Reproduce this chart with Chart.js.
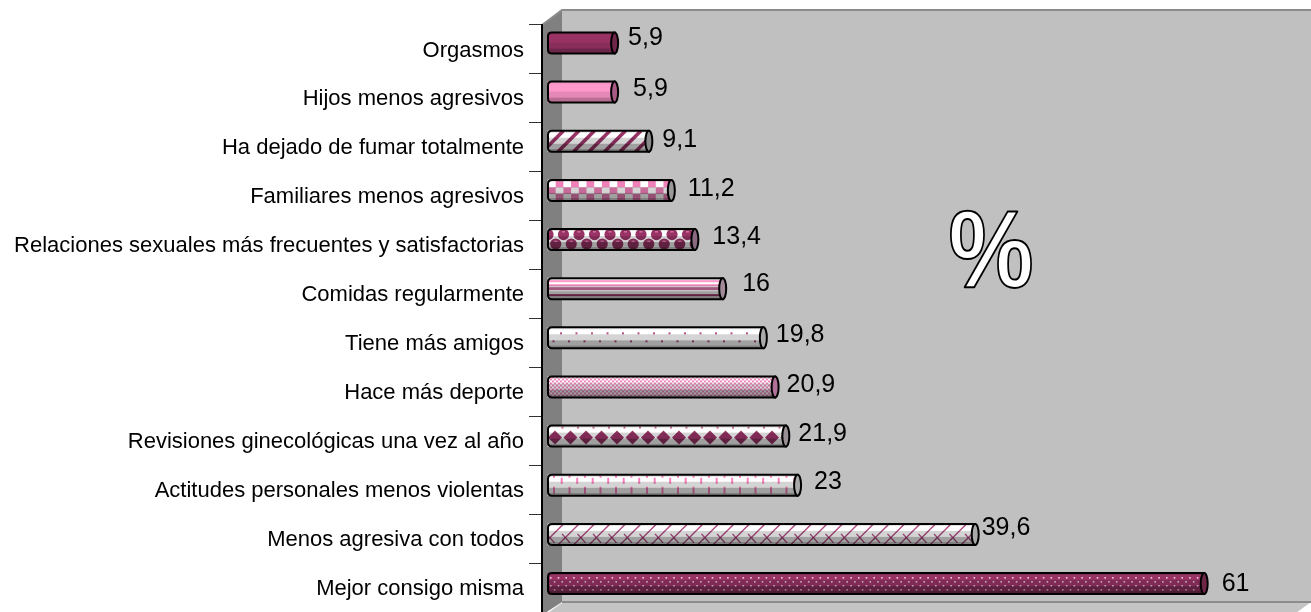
<!DOCTYPE html>
<html lang="es"><head><meta charset="utf-8"><title>Chart</title>
<style>html,body{margin:0;padding:0;background:#fff;overflow:hidden}canvas{display:block}</style>
<script src="https://cdn.jsdelivr.net/npm/chart.js@4"></script></head>
<body><canvas id="c" width="1311" height="612"></canvas>
<script>
const categories = ["Orgasmos","Hijos menos agresivos","Ha dejado de fumar totalmente","Familiares menos agresivos","Relaciones sexuales más frecuentes y satisfactorias","Comidas regularmente","Tiene más amigos","Hace más deporte","Revisiones ginecológicas una vez al año","Actitudes personales menos violentas","Menos agresiva con todos","Mejor consigo misma"];
const values = [5.9,5.9,9.1,11.2,13.4,16,19.8,20.9,21.9,23,39.6,61];
const barPatterns = ["solidPlum","solidPink","diagonal","checker","spheres","stripes","dots","fine","diamonds","dashes","trellis","plumDots"];
const labelNudgeX = [17,22,17,20,21,23,16,15,16,20,10,21];
const labelNudgeY = [-6,-4,-2,-2,-3,-6,-4,-3,-3,-4,-7,0];

const PLUM="#993366", PINK="#ff99cc", STEP=15.5, DEPTH_X=20, DEPTH_Y=15;
const baseColors={solidPlum:PLUM,solidPink:PINK,plumDots:PLUM};
const capColors={solidPlum:"#6e2649",solidPink:"#a85a85",diagonal:"#8a8a8a",checker:"#999",spheres:"#8a6a80",stripes:"#a08a98",dots:"#aaa",fine:"#b07098",diamonds:"#998f95",dashes:"#aaa",trellis:"#aaa",plumDots:"#6e2649"};
const bands=[[0,2,"#e0e0e0"],[2,7,"#ffffff"],[7,13,"#d4d4d4"],[13,18,"#a0a0a0"],[18,23,"#808080"]];
const softBands=[[0,2,"#f0f0f0"],[2,10,"#ffffff"],[10,16,"#e4e4e4"],[16,23,"#b8b8b8"]];

const painters={
 solidPlum(){},solidPink(){},
 diagonal(c,L,T,W,H){c.strokeStyle=PLUM;c.lineWidth=3.6;for(let x=L-H;x<L+W+H;x+=STEP){c.beginPath();c.moveTo(x,T+H);c.lineTo(x+H,T);c.stroke();}},
 checker(c,L,T,W,H){c.fillStyle="#f080b8";let j=0;for(let y=T+1;y<T+H;y+=6.5,j++){let i=0;for(let x=L;x<L+W;x+=7.7,i++){if((i+j)%2)c.fillRect(x,y,7.7,6.5);}}},
 spheres(c,L,T,W,H){[[15,STEP/2],[5.5,0]].forEach(r=>{for(let x=L+r[1];x<L+W+8;x+=STEP){c.fillStyle=PLUM;c.beginPath();c.arc(x,T+r[0],5.6,0,7);c.fill();c.fillStyle="#d070a0";c.fillRect(x-1.5,T+r[0]-3.5,3,1.5);}});},
 stripes(c,L,T,W,H){[[2,2,PINK],[6,2,PINK],[9,3,"#c06a98"],[13,1,"#fff"],[16,2,PLUM]].forEach(s=>{c.fillStyle=s[2];c.fillRect(L,T+s[0],W,s[1]);});},
 dots(c,L,T,W,H){c.fillStyle="#b8508a";[[5,12],[13,4.5]].forEach(r=>{for(let x=L+r[1];x<L+W;x+=STEP)c.fillRect(x,T+r[0],2,2);});},
 fine(c,L,T,W,H){c.fillStyle="#f088bc";for(let y=0;y<H;y+=2)for(let x=0;x<W;x+=2){if(((x+y)/2)%2===0)c.fillRect(L+x,T+y,2,2);}},
 diamonds(c,L,T,W,H){for(let x=L+7;x<L+W+8;x+=STEP){c.fillStyle=PLUM;c.beginPath();c.moveTo(x-7,T+12);c.lineTo(x,T+5);c.lineTo(x+7,T+12);c.lineTo(x,T+19);c.closePath();c.fill();c.fillStyle="#d070a0";c.fillRect(x+6.5,T+1,2,2);}},
 dashes(c,L,T,W,H){for(let x=L+5;x<L+W;x+=STEP){c.fillStyle="#ff80c0";c.fillRect(x+7.7,T+3,2,6);c.fillRect(x,T+1,2,2);c.fillRect(x,T+12,2,7);}},
 trellis(c,L,T,W,H){c.strokeStyle="#b04c82";c.lineWidth=1.4;for(let x=L-H;x<L+W+H;x+=STEP){c.beginPath();c.moveTo(x,T+H);c.lineTo(x+H,T);c.stroke();c.beginPath();c.moveTo(x+4,T+10);c.lineTo(x+12,T+H-2);c.stroke();}},
 plumDots(c,L,T,W,H){c.fillStyle="#f0d0e0";[[4,2],[8,5.8],[12,2],[16,5.8]].forEach(r=>{for(let x=L+r[1];x<L+W;x+=7.7)c.fillRect(x,T+r[0],1.6,1.6);});}
};

function outlinePath(c,L,T,R,B){const r=4;c.beginPath();c.moveTo(L+r,T);c.lineTo(R,T);c.lineTo(R,B);c.lineTo(L+r,B);c.quadraticCurveTo(L,B,L,B-r);c.lineTo(L,T+r);c.quadraticCurveTo(L,T,L+r,T);c.closePath();}

const scene={id:"scene",
 beforeDraw(chart){const c=chart.ctx,a=chart.chartArea,W=chart.width,backL=a.left+DEPTH_X,backT=a.top-DEPTH_Y,floorY=a.bottom-10;
  c.save();
  c.fillStyle="#c0c0c0";c.fillRect(backL,backT,W-backL,floorY-backT);
  c.fillStyle="#808080";c.beginPath();c.moveTo(a.left,a.top);c.lineTo(backL,backT);c.lineTo(backL,floorY);c.lineTo(a.left,a.bottom+3);c.closePath();c.fill();
  c.fillStyle="#c4c4c4";c.beginPath();c.moveTo(backL,floorY);c.lineTo(W,floorY);c.lineTo(W-15,a.bottom+1);c.lineTo(a.left+6,a.bottom+1);c.closePath();c.fill();
  c.strokeStyle="#8c8c8c";c.lineWidth=2;c.beginPath();c.moveTo(a.left,a.top);c.lineTo(backL,backT);c.lineTo(W,backT);c.stroke();
  c.beginPath();c.moveTo(backL,floorY);c.lineTo(W,floorY);c.stroke();
  c.strokeStyle="#e4e4e4";c.lineWidth=1;c.beginPath();c.moveTo(backL,floorY+1);c.lineTo(a.left+7,a.bottom);c.stroke();
  c.restore();},
 afterDatasetsUpdate(chart){const els=chart.getDatasetMeta(0).data,n=els.length-1;els.forEach((e,i)=>{e.y-=6.5-2.5*i/n;});},
 afterDatasetsDraw(chart){const c=chart.ctx;
  chart.getDatasetMeta(0).data.forEach((e,i)=>{
   const name=barPatterns[i],H=e.height,T=e.y-H/2,B=T+H,L=e.base,R=e.x,capR=3.5;
   c.save();outlinePath(c,L,T,R+capR,B);c.clip();
   c.fillStyle=baseColors[name]||"#ffffff";c.fillRect(L,T,R-L+capR,H);
   painters[name](c,L,T,R-L+capR,H);
   c.globalCompositeOperation="multiply";
   (name.startsWith("solid")?softBands:bands).forEach(b=>{c.fillStyle=b[2];c.fillRect(L,T+b[0],R-L+capR,Math.min(b[1],H)-b[0]);});
   c.restore();
   c.save();c.strokeStyle="#000";c.lineWidth=2;
   outlinePath(c,L,T,R+capR,B);c.stroke();
   c.beginPath();c.ellipse(R+capR,e.y,capR,H/2,0,0,Math.PI*2);c.fillStyle=capColors[name];c.fill();c.stroke();
   c.fillStyle="#000";c.font='25px "Liberation Sans"';c.textAlign="left";c.textBaseline="middle";
   c.fillText(String(values[i]).replace(".",","),R+labelNudgeX[i],e.y+labelNudgeY[i]+1);
   c.restore();
  });
  const a=chart.chartArea;c.save();c.font='bold 110px "Liberation Sans"';c.textAlign="center";c.textBaseline="middle";c.lineJoin="round";
  c.fillStyle="#fff";c.strokeStyle="#000";c.lineWidth=2;c.translate(a.left+449,257);c.scale(0.87,1);
  c.fillText("%",0,0);c.strokeText("%",0,0);c.restore();
 }};

new Chart(document.getElementById("c"),{type:"bar",plugins:[scene],
 data:{labels:categories,datasets:[{data:values,backgroundColor:barPatterns.map(n=>baseColors[n]||"#ffffff"),borderWidth:0,barThickness:21}]},
 options:{indexAxis:"y",responsive:false,animation:false,
  layout:{padding:{top:25,right:0,bottom:0,left:0}},
  plugins:{legend:{display:false},tooltip:{enabled:false}},
  scales:{
   x:{display:false,min:-0.56,max:71.31},
   y:{afterFit(s){s.width=542;s.paddingBottom=0;s.paddingTop=0;},
      border:{color:"#000",width:2},
      grid:{drawOnChartArea:false,tickLength:13,tickColor:"#333",tickWidth:1},
      ticks:{color:"#000",padding:5,labelOffset:1,autoSkip:false,font:{family:'"Liberation Sans"',size:22}}}
  }}});
</script></body></html>
